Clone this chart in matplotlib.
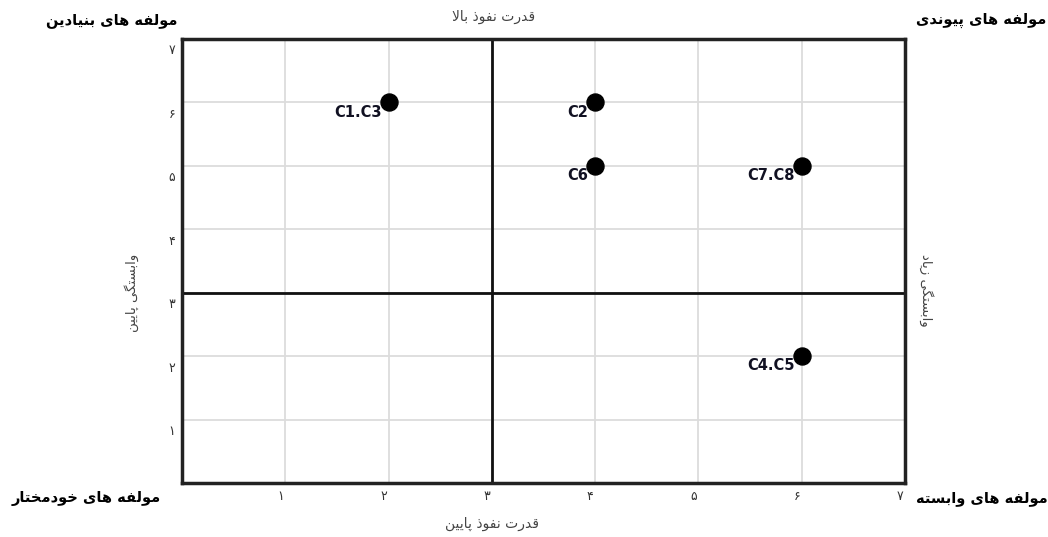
import matplotlib.pyplot as plt
from matplotlib.transforms import offset_copy

# data
labels = ["C1.C3", "C2", "C6", "C7.C8", "C4.C5"]
x_vals = [2, 4, 4, 6, 6]
y_vals = [6, 6, 5, 5, 2]
ticks = [1, 2, 3, 4, 5, 6, 7]
tick_labels = ["۱", "۲", "۳", "۴", "۵", "۶", "۷"]
corner_tl = "مولفه های بنیادین"
corner_tr = "مولفه های پیوندی"
corner_bl = "مولفه های خودمختار"
corner_br = "مولفه های وابسته"
top_text = "قدرت نفوذ بالا"
bottom_text = "قدرت نفوذ پایین"
left_text = "وابستگی پایین"
right_text = "وابستگی زیاد"

# Arabic presentation forms: isolated, final, initial, medial
FORMS = {
    "ا": ("\uFE8D", "\uFE8E"), "د": ("\uFEA9", "\uFEAA"), "ذ": ("\uFEAB", "\uFEAC"),
    "ر": ("\uFEAD", "\uFEAE"), "ز": ("\uFEAF", "\uFEB0"), "و": ("\uFEED", "\uFEEE"),
    "ب": ("\uFE8F", "\uFE90", "\uFE91", "\uFE92"), "پ": ("\uFB56", "\uFB57", "\uFB58", "\uFB59"),
    "ت": ("\uFE95", "\uFE96", "\uFE97", "\uFE98"), "خ": ("\uFEA5", "\uFEA6", "\uFEA7", "\uFEA8"),
    "س": ("\uFEB1", "\uFEB2", "\uFEB3", "\uFEB4"), "ف": ("\uFED1", "\uFED2", "\uFED3", "\uFED4"),
    "ق": ("\uFED5", "\uFED6", "\uFED7", "\uFED8"), "گ": ("\uFB92", "\uFB93", "\uFB94", "\uFB95"),
    "ل": ("\uFEDD", "\uFEDE", "\uFEDF", "\uFEE0"), "م": ("\uFEE1", "\uFEE2", "\uFEE3", "\uFEE4"),
    "ن": ("\uFEE5", "\uFEE6", "\uFEE7", "\uFEE8"), "ه": ("\uFEE9", "\uFEEA", "\uFEEB", "\uFEEC"),
    "ی": ("\uFBFC", "\uFBFD", "\uFBFE", "\uFBFF"),
}


def fa(text):
    out = []
    i = 0
    while i < len(text):
        c = text[i]
        prev = text[i - 1] if i > 0 else " "
        joins_prev = prev in FORMS and len(FORMS[prev]) == 4
        if c not in FORMS:
            out.append(c)
            i += 1
            continue
        if c == "ل" and i + 1 < len(text) and text[i + 1] == "ا":
            out.append("\uFEFC" if joins_prev else "\uFEFB")
            i += 2
            continue
        nxt = text[i + 1] if i + 1 < len(text) else " "
        joins_next = len(FORMS[c]) == 4 and nxt in FORMS
        f = FORMS[c]
        if joins_prev and joins_next:
            out.append(f[3])
        elif joins_prev:
            out.append(f[1])
        elif joins_next:
            out.append(f[2])
        else:
            out.append(f[0])
        i += 1
    return "".join(out[::-1])


plt.rcParams["font.family"] = ["DejaVu Sans"]

fig = plt.figure(figsize=(10.48, 5.37), dpi=100)
ax = fig.add_axes([0.1737, 0.1006, 0.6899, 0.8268])
ax.set_xlim(0, 7)
ax.set_ylim(0, 7)

ax.grid(True, color="#dcdcdc", linewidth=1.3)
ax.set_axisbelow(True)
ax.set_xticks(ticks)
ax.set_yticks(ticks)
ax.tick_params(length=0, labelbottom=False, labelleft=False)
for s in ax.spines.values():
    s.set_linewidth(2.5)
    s.set_color("#222222")

ax.axvline(3, color="#111111", linewidth=2)
ax.axhline(3, color="#111111", linewidth=2)

# tick labels sit slightly off the grid lines in the original
xt = offset_copy(ax.get_xaxis_transform(), fig=fig, x=-5, y=-14, units="dots")
yt = offset_copy(ax.get_yaxis_transform(), fig=fig, x=-10, y=-12, units="dots")
for t, lab in zip(ticks, tick_labels):
    ax.text(t, 0, lab, transform=xt, ha="center", va="center", fontsize=9, color="#333333")
    ax.text(0, t, lab, transform=yt, ha="center", va="center", fontsize=9, color="#333333")

ax.scatter(x_vals, y_vals, s=150, color="black", zorder=5)
for x, y, lab in zip(x_vals, y_vals, labels):
    ax.annotate(lab, (x, y), xytext=(-5, -7), textcoords="offset points",
                ha="right", va="center", fontsize=10.5, fontweight="bold", color="#111122")

W, H = 1048, 537


def ftext(px, py, s, **kw):
    fig.text(px / W, 1 - py / H, fa(s), ha="center", va="center", **kw)


ftext(112, 20, corner_tl, fontsize=10.5, fontweight="bold")
ftext(981, 20, corner_tr, fontsize=10.5, fontweight="bold")
ftext(86, 498, corner_bl, fontsize=10.5, fontweight="bold")
ftext(982, 498, corner_br, fontsize=10.5, fontweight="bold")
ftext(494, 17, top_text, fontsize=10, color="#444444")
ftext(492, 524, bottom_text, fontsize=10, color="#444444")
ftext(132, 293, left_text, fontsize=9.5, color="#444444", rotation=90)
ftext(926, 290, right_text, fontsize=9.5, color="#444444", rotation=-90)

fig.savefig("out.png", dpi=100)
